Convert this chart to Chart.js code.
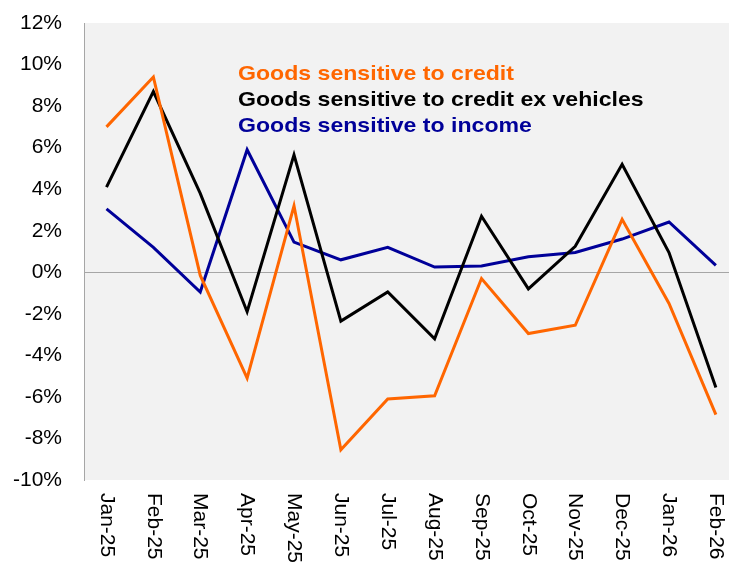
<!DOCTYPE html>
<html>
<head>
<meta charset="utf-8">
<script src="https://cdn.jsdelivr.net/npm/chart.js@4/dist/chart.umd.min.js"></script>
<style>
  html, body { margin: 0; padding: 0; background: #fff; }
  #wrap { width: 729px; height: 563px; }
</style>
</head>
<body>
<div id="wrap"><canvas id="line-chart"></canvas></div>
<script>
var months = ["Jan-25", "Feb-25", "Mar-25", "Apr-25", "May-25", "Jun-25", "Jul-25",
              "Aug-25", "Sep-25", "Oct-25", "Nov-25", "Dec-25", "Jan-26", "Feb-26"];
var credit = [7.0, 9.4, -0.15, -5.1, 3.2, -8.55, -6.1, -5.95, -0.3, -2.95, -2.55, 2.55, -1.5, -6.85];
var creditExVehicles = [4.1, 8.7, 3.8, -1.9, 5.65, -2.35, -0.95, -3.2, 2.7, -0.8, 1.25, 5.2, 0.95, -5.55];
var income = [3.05, 1.2, -0.95, 5.9, 1.45, 0.6, 1.2, 0.25, 0.3, 0.75, 0.95, 1.6, 2.42, 0.33];
var yTicks = [-10, -8, -6, -4, -2, 0, 2, 4, 6, 8, 10, 12];

var fontFam = '"Liberation Sans", Arial, sans-serif';

function toPoints(arr) {
    return arr.map(function (v, i) { return { x: i, y: v }; });
}

// grey plot background
var bgPlugin = {
    id: 'bg',
    beforeDraw: function (chart) {
        var a = chart.chartArea, c = chart.ctx;
        c.save();
        c.fillStyle = '#f2f2f2';
        c.fillRect(a.left, a.top, a.right - a.left, a.bottom - a.top);
        c.restore();
    }
};

// month labels read top to bottom + series names inside the plot
var textPlugin = {
    id: 'texts',
    afterDraw: function (chart) {
        var c = chart.ctx;
        var xs = chart.scales.x;
        c.save();
        c.fillStyle = '#000';
        c.font = '21px ' + fontFam;
        c.textAlign = 'left';
        c.textBaseline = 'middle';
        months.forEach(function (m, i) {
            c.save();
            c.translate(xs.getPixelForValue(i), 493);
            c.rotate(Math.PI / 2);
            c.fillText(m, 0, 0);
            c.restore();
        });
        c.font = 'bold 21px ' + fontFam;
        c.textBaseline = 'alphabetic';
        chart.data.datasets.forEach(function (ds, i) {
            c.save();
            c.translate(238, 80 + i * 26);
            c.scale(1.1, 1);
            c.fillStyle = ds.borderColor;
            c.fillText(ds.label, 0, 0);
            c.restore();
        });
        c.restore();
    }
};

var ctx = document.getElementById("line-chart").getContext('2d');
var myChart = new Chart(ctx, {
    type: 'line',
    data: {
        datasets: [
            {
                label: "Goods sensitive to credit",
                data: toPoints(credit),
                borderColor: "#FF6600",
                backgroundColor: "#FF6600"
            },
            {
                label: "Goods sensitive to credit ex vehicles",
                data: toPoints(creditExVehicles),
                borderColor: "#000000",
                backgroundColor: "#000000"
            },
            {
                label: "Goods sensitive to income",
                data: toPoints(income),
                borderColor: "#000099",
                backgroundColor: "#000099"
            }
        ]
    },
    options: {
        responsive: true,
        maintainAspectRatio: false,
        animation: false,
        layout: { padding: { top: 23, right: 0, left: 0, bottom: 0 } },
        elements: {
            line: { borderWidth: 3, tension: 0, borderJoinStyle: 'miter' },
            point: { radius: 0, hoverRadius: 0 }
        },
        plugins: {
            legend: { display: false },
            tooltip: { enabled: false }
        },
        scales: {
            x: {
                type: 'linear',
                min: -0.48,
                max: 13.28,
                ticks: { display: false },
                grid: { display: false },
                border: { display: false },
                afterFit: function (scale) {
                    scale.height = 83;
                    scale.paddingLeft = 0;
                    scale.paddingRight = 0;
                }
            },
            y: {
                min: -10,
                max: 12,
                afterBuildTicks: function (scale) {
                    scale.ticks = yTicks.map(function (v) { return { value: v }; });
                },
                ticks: {
                    padding: 22,
                    color: '#000',
                    font: { family: fontFam, size: 21 },
                    callback: function (v) { return v + '%'; }
                },
                grid: {
                    drawTicks: false,
                    color: function (c) { return c.tick && c.tick.value === 0 ? '#a6a6a6' : 'rgba(0,0,0,0)'; }
                },
                border: { display: true, color: '#a6a6a6', width: 1 },
                afterFit: function (scale) {
                    scale.width = 84;
                    scale.paddingTop = 0;
                    scale.paddingBottom = 0;
                }
            }
        }
    },
    plugins: [bgPlugin, textPlugin]
});
</script>
</body>
</html>
